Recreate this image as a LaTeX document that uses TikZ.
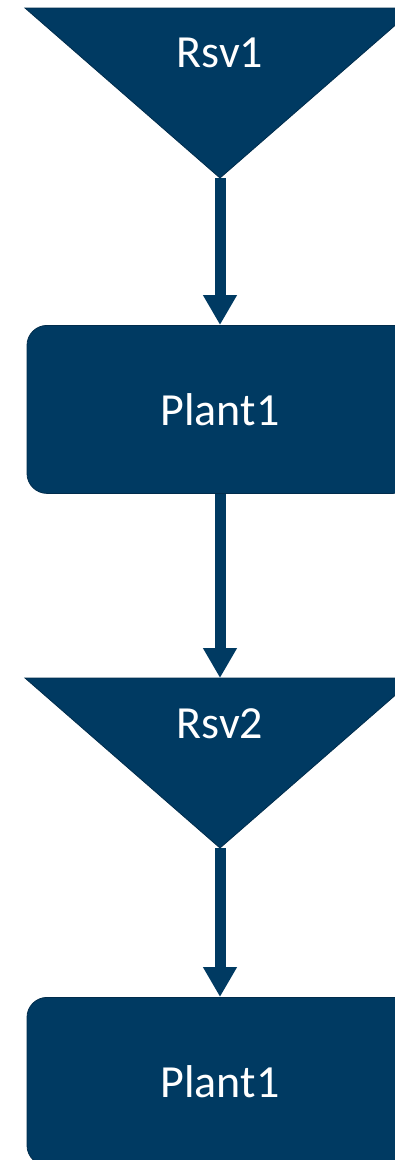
\documentclass[tikz,border=0pt]{standalone}
\usepackage{fontspec}
\setmainfont{Carlito}
\usepackage{tikz}
\usetikzlibrary{arrows.meta,positioning}
\definecolor{navy}{RGB}{0,58,98}
\definecolor{navyedge}{RGB}{0,44,76}

\begin{document}
\begin{tikzpicture}[x=1pt,y=-1pt,>={Triangle[width=32pt,length=30pt]},
  lbl/.style={text=white,font=\fontsize{46}{50}\selectfont},
  plantbox/.style={lbl,fill=navy,draw=navyedge,line width=0.8pt,rounded corners=20pt,
    minimum width=386pt,minimum height=168pt,inner sep=0pt},
  flow/.style={->,draw=navy,fill=navy,line width=11pt}]
\useasboundingbox (0,0) rectangle (395,1160);
% reservoir 1 and the plant below it
\fill[navy,draw=navyedge,line width=0.8pt] (25,8) -- (415,8) -- (220,178) -- cycle;
\node (rsv1) [lbl] at (220,53) {Rsv1};
\coordinate (rsv1tip) at (220,178);
\node (plant1) [plantbox,below=147pt of rsv1tip] {Plant1};
% reservoir 2
\coordinate (rsv2base) at (220,678);
\fill[navy,draw=navyedge,line width=0.8pt] (25,678) -- (415,678) -- (220,848) -- cycle;
\node (rsv2) [lbl] at (220,724) {Rsv2};
\coordinate (rsv2tip) at (220,848);
\node (plant2) [plantbox,below=149pt of rsv2tip] {Plant1};
\draw[flow] (rsv1tip) -- (plant1);
\draw[flow] (plant1) -- (rsv2base);
\draw[flow] (rsv2tip) -- (plant2);
\end{tikzpicture}
\end{document}
